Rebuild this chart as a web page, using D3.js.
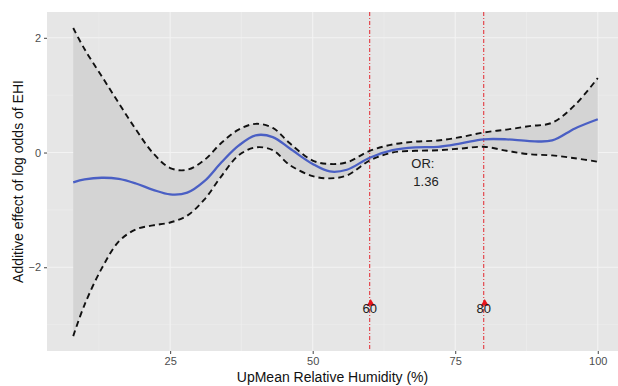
<!DOCTYPE html>
<html>
<head>
<meta charset="utf-8">
<script src="https://cdn.jsdelivr.net/npm/d3@7"></script>
<style>
  body { margin: 0; background: #fff; }
  svg { display: block; font-family: "Liberation Sans", Arial, sans-serif; }
</style>
</head>
<body>
<svg id="chart" width="618" height="386"></svg>
<script>
// humidity grid (%) and smooth estimate with its confidence band
const humidity = [8, 10, 13, 16, 19, 22, 25, 28, 31, 34, 37, 40, 43, 46, 50, 53, 56, 60, 64, 68, 72, 76, 80, 84, 88, 92, 96, 100];
const effect = [-0.52, -0.47, -0.44, -0.46, -0.54, -0.65, -0.73, -0.70, -0.50, -0.17, 0.12, 0.30, 0.27, 0.07, -0.20, -0.33, -0.30, -0.09, 0.04, 0.09, 0.10, 0.16, 0.23, 0.23, 0.20, 0.21, 0.42, 0.58];
const upper = [2.17, 1.80, 1.33, 0.86, 0.40, -0.01, -0.27, -0.30, -0.13, 0.17, 0.40, 0.50, 0.43, 0.16, -0.14, -0.20, -0.17, 0.03, 0.14, 0.19, 0.21, 0.27, 0.35, 0.40, 0.46, 0.52, 0.83, 1.30];
const lower = [-3.20, -2.65, -2.02, -1.55, -1.34, -1.27, -1.22, -1.10, -0.82, -0.41, -0.05, 0.09, 0.04, -0.22, -0.41, -0.45, -0.40, -0.14, 0.00, 0.03, 0.04, 0.07, 0.10, 0.03, -0.03, -0.05, -0.10, -0.16];

const xTicks = [25, 50, 75, 100];
const yTicks = [-2, 0, 2];
const cutoffs = [60, 80];
const cutoffY = -2.65;
const orLabel = ["OR:", "1.36"];

const svg = d3.select("#chart");
const m = {top: 12, left: 47, bottom: 351, right: 624};

const x = d3.scaleLinear().domain([3.4, 104.6]).range([m.left, m.right]);
const y = d3.scaleLinear().domain([-3.46, 2.45]).range([m.bottom, m.top]);

const rows = humidity.map((h, i) => ({h, e: effect[i], u: upper[i], l: lower[i]}));

// panel
svg.append("rect")
    .attr("x", m.left).attr("y", m.top)
    .attr("width", m.right - m.left).attr("height", m.bottom - m.top)
    .attr("fill", "#e6e6e6");

// grid
const xMinor = xTicks.map(t => t - 12.5).concat([112.5]);
const yMinor = [-3, -1, 1];
svg.append("g").selectAll("line").data(xMinor).join("line")
    .attr("x1", d => x(d)).attr("x2", d => x(d))
    .attr("y1", m.top).attr("y2", m.bottom)
    .attr("stroke", "#eeeeee").attr("stroke-width", 0.6);
svg.append("g").selectAll("line").data(yMinor).join("line")
    .attr("x1", m.left).attr("x2", m.right)
    .attr("y1", d => y(d)).attr("y2", d => y(d))
    .attr("stroke", "#eeeeee").attr("stroke-width", 0.6);
svg.append("g").selectAll("line").data(xTicks).join("line")
    .attr("x1", d => x(d)).attr("x2", d => x(d))
    .attr("y1", m.top).attr("y2", m.bottom)
    .attr("stroke", "#f3f3f3").attr("stroke-width", 1.1);
svg.append("g").selectAll("line").data(yTicks).join("line")
    .attr("x1", m.left).attr("x2", m.right)
    .attr("y1", d => y(d)).attr("y2", d => y(d))
    .attr("stroke", "#f3f3f3").attr("stroke-width", 1.1);

// ribbon
const curve = d3.curveCatmullRom.alpha(0.5);
svg.append("path").datum(rows)
    .attr("fill", "#d4d4d4")
    .attr("d", d3.area().x(d => x(d.h)).y0(d => y(d.l)).y1(d => y(d.u)).curve(curve));

// cutoff lines
svg.append("g").selectAll("line").data(cutoffs).join("line")
    .attr("x1", d => x(d)).attr("x2", d => x(d))
    .attr("y1", m.top).attr("y2", m.bottom)
    .attr("stroke", "#e3262e").attr("stroke-width", 1)
    .attr("stroke-dasharray", "4 2 1 2");

// band limits
for (const key of ["u", "l"]) {
    svg.append("path").datum(rows)
        .attr("fill", "none")
        .attr("stroke", "#111")
        .attr("stroke-width", 1.9)
        .attr("stroke-dasharray", "6 4")
        .attr("d", d3.line().x(d => x(d.h)).y(d => y(d[key])).curve(curve));
}

// smooth estimate
svg.append("path").datum(rows)
    .attr("fill", "none")
    .attr("stroke", "#4a5fc4")
    .attr("stroke-width", 2.3)
    .attr("d", d3.line().x(d => x(d.h)).y(d => y(d.e)).curve(curve));

// cutoff markers + labels
svg.append("g").selectAll("path").data(cutoffs).join("path")
    .attr("transform", d => `translate(${x(d) + 1},${y(cutoffY) - 1})`)
    .attr("d", d3.symbol(d3.symbolTriangle, 28))
    .attr("fill", "#e8141c");
svg.append("g").selectAll("text").data(cutoffs).join("text")
    .attr("x", d => x(d)).attr("y", y(cutoffY) + 8)
    .attr("text-anchor", "middle")
    .attr("font-size", 13)
    .attr("fill", "#1a1a1a")
    .text(d => d);

// OR annotation
svg.append("g").selectAll("text").data(orLabel).join("text")
    .attr("x", (d, i) => x(67.3) + i * 2)
    .attr("y", (d, i) => y(-0.09) + 10 + i * 18)
    .attr("font-size", 13)
    .attr("fill", "#222")
    .text(d => d);

// axes
const xAxis = svg.append("g").attr("transform", `translate(0,${m.bottom})`)
    .call(d3.axisBottom(x).tickValues(xTicks).tickSize(3).tickPadding(3));
const yAxis = svg.append("g").attr("transform", `translate(${m.left},0)`)
    .call(d3.axisLeft(y).tickValues(yTicks).tickSize(3).tickPadding(3).tickFormat(d3.format("d")));
for (const g of [xAxis, yAxis]) {
    g.select(".domain").remove();
    g.selectAll(".tick line").attr("stroke", "#444");
    g.selectAll(".tick text").attr("fill", "#4d4d4d").attr("font-size", 11)
        .style("font-family", "Liberation Sans, Arial, sans-serif");
}

// titles
svg.append("text")
    .attr("x", (m.left + 618) / 2).attr("y", 382)
    .attr("text-anchor", "middle")
    .attr("font-size", 14)
    .attr("fill", "#111")
    .text("UpMean Relative Humidity (%)");
svg.append("text")
    .attr("transform", `translate(23,${(m.top + m.bottom) / 2}) rotate(-90)`)
    .attr("text-anchor", "middle")
    .attr("font-size", 14)
    .attr("fill", "#111")
    .text("Additive effect of log odds of EHI");
</script>
</body>
</html>
